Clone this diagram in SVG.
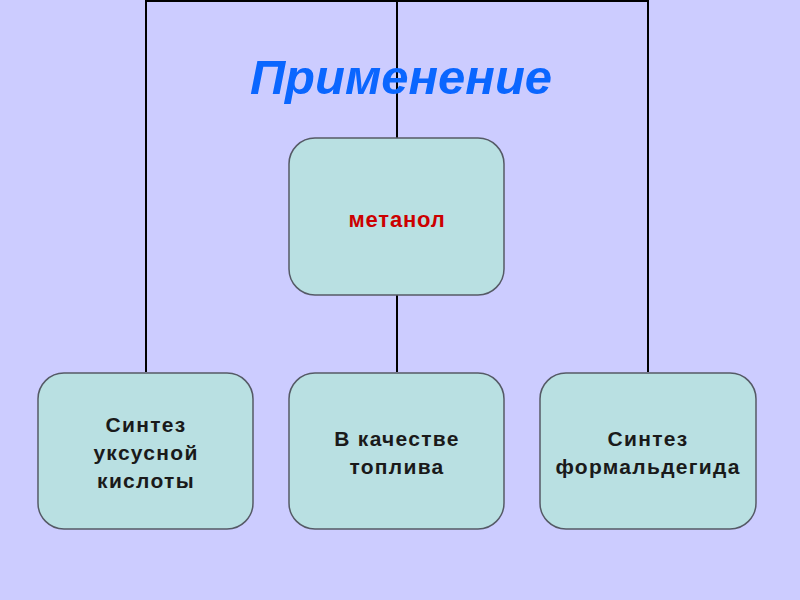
<svg xmlns="http://www.w3.org/2000/svg" width="800" height="600" viewBox="0 0 800 600">
<style>
.box{fill:#b9e0e2;stroke:#555a66;stroke-width:1.5}
.lbl{font-family:"Liberation Sans",Arial,sans-serif;font-weight:bold;font-size:21px;fill:#1a1a1a;text-anchor:middle;letter-spacing:1.3px}
.ln{stroke:#000;stroke-width:2;fill:none}
</style>
<rect width="800" height="600" fill="#ccccff"/>
<g id="connectors">
<path class="ln" d="M146,372 V1 H648 V372"/>
<path class="ln" d="M397,1 V138"/>
<path class="ln" d="M397,295 V372"/>
</g>
<text id="title" x="401" y="94" font-family="'Liberation Sans',Arial,sans-serif" font-weight="bold" font-style="italic" font-size="49" fill="#0a66ff" text-anchor="middle">Применение</text>
<g id="methanol">
<rect class="box" x="289" y="138" width="215" height="157" rx="26"/>
<text class="lbl" x="397" y="227" style="fill:#cc0000;font-size:22px;letter-spacing:0.8px">метанол</text>
</g>
<g id="acetic">
<rect class="box" x="38" y="373" width="215" height="156" rx="26"/>
<text class="lbl" x="146" y="432">Синтез</text>
<text class="lbl" x="146" y="460">уксусной</text>
<text class="lbl" x="146" y="488">кислоты</text>
</g>
<g id="fuel">
<rect class="box" x="289" y="373" width="215" height="156" rx="26"/>
<text class="lbl" x="397" y="446">В качестве</text>
<text class="lbl" x="397" y="474">топлива</text>
</g>
<g id="formaldehyde">
<rect class="box" x="540" y="373" width="216" height="156" rx="26"/>
<text class="lbl" x="648" y="446">Синтез</text>
<text class="lbl" x="648" y="474">формальдегида</text>
</g>
</svg>
